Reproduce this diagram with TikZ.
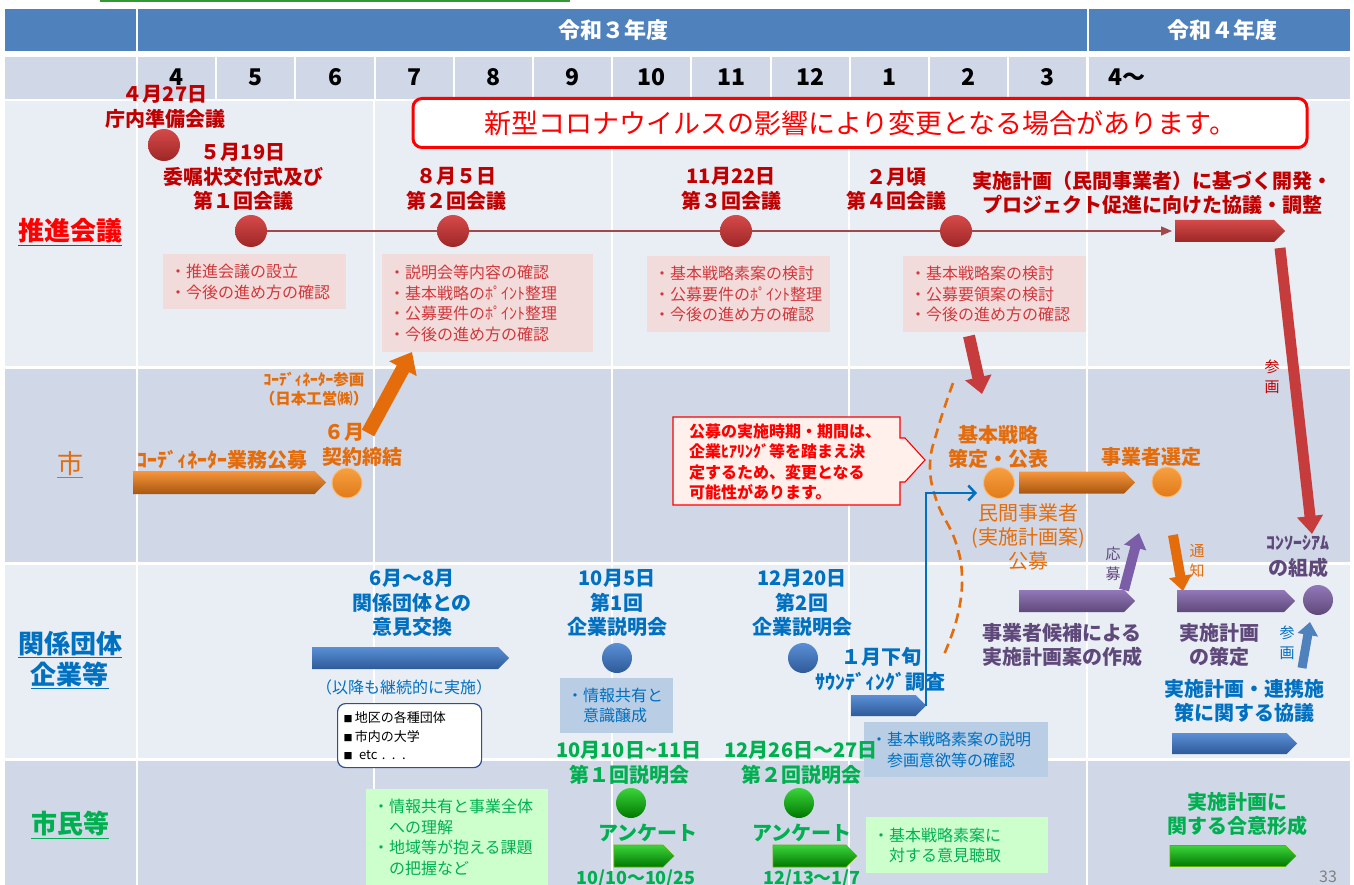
\documentclass[tikz,border=0pt]{standalone}
\usepackage{fontspec}
\setmainfont{Noto Sans CJK JP}
\usetikzlibrary{arrows.meta,shapes.symbols,calc}
\definecolor{hdrblue}{HTML}{4F81BD}
\definecolor{rowlight}{HTML}{E9EDF4}
\definecolor{rowdark}{HTML}{D0D8E8}
\definecolor{dred}{HTML}{C00000}
\definecolor{pinkbox}{HTML}{F2DCDB}
\definecolor{pinktext}{HTML}{D0383C}
\definecolor{orng}{HTML}{E46C0A}
\definecolor{purp}{HTML}{5F497A}
\definecolor{purpshape}{HTML}{7B5EA7}
\definecolor{bluetext}{HTML}{0070C0}
\definecolor{greentext}{HTML}{00B050}
\definecolor{lgreen}{HTML}{CCFFCC}
\definecolor{lblue}{HTML}{B9CDE5}
\definecolor{linegreen}{HTML}{339933}
\definecolor{redtop}{HTML}{D64A4A}
\definecolor{redbot}{HTML}{9E2626}
\definecolor{orgtop}{HTML}{F7A040}
\definecolor{orgbot}{HTML}{E07A1A}
\definecolor{orgptop}{HTML}{F7963C}
\definecolor{orgpbot}{HTML}{A8560F}
\definecolor{blutop}{HTML}{5A8FD6}
\definecolor{blubot}{HTML}{2E5A98}
\definecolor{grntop}{HTML}{3BD43B}
\definecolor{grnbot}{HTML}{007800}
\definecolor{purtop}{HTML}{9278B8}
\definecolor{purbot}{HTML}{5F497A}
\definecolor{arrred}{HTML}{C63B3B}
\definecolor{linered}{HTML}{A0484A}
\definecolor{callfill}{HTML}{FFF0EC}
\definecolor{boxborder}{HTML}{2F4F8F}
\tikzset{
  txt/.style={inner sep=0pt, outer sep=0pt, align=center},
  fb20/.style={font=\bfseries\fontsize{20}{24.5}\selectfont},
  fr20/.style={font=\fontsize{20}{24}\selectfont},
  fr16/.style={font=\fontsize{16}{20.5}\selectfont},
  fr15/.style={font=\fontsize{15}{20}\selectfont},
  ball/.style={circle, inner sep=0pt, minimum size=#1},
  ball/.default=31pt,
  redball/.style={ball=32pt, top color=redtop, bottom color=redbot},
  orgball/.style={ball=30pt, top color=orgtop, bottom color=orgbot, draw=orgtop!70!white, line width=1pt},
  bluball/.style={ball=30pt, top color=blutop, bottom color=blubot},
  grnball/.style={ball=30pt, top color=grntop, bottom color=grnbot},
  purball/.style={ball=30pt, top color=purtop, bottom color=purbot},
  pent/.style={signal, signal to=east, inner sep=0pt, outer sep=0pt, anchor=west},
  redpent/.style={pent, top color=redtop, bottom color=redbot},
  orgpent/.style={pent, top color=orgptop, bottom color=orgpbot},
  blupent/.style={pent, top color=blutop, bottom color=blubot},
  grnpent/.style={pent, top color=grntop, bottom color=grnbot, draw=grnbot!60!yellow, line width=0.6pt},
  purpent/.style={pent, top color=purtop, bottom color=purbot},
  infobox/.style={anchor=north west, align=left, inner xsep=7pt, inner ysep=3pt, font=\fontsize{16}{20.5}\selectfont},
  pbox/.style={infobox, fill=pinkbox, text=pinktext},
  bbox/.style={infobox, fill=lblue, text=bluetext},
  gbox/.style={infobox, fill=lgreen, text=greentext},
}
\newcommand{\sq}{{\fontsize{9}{9}\selectfont ■}\,}
\begin{document}
\begin{tikzpicture}[x=1pt,y=-1pt]
\useasboundingbox (0,0) rectangle (1354,885);
\fill[white] (0,0) rectangle (1354,885);
% top green line
\draw[linegreen, line width=2pt] (100,1.5) -- (570,1.5);
% header row
\fill[hdrblue] (5,9) rectangle (136,51);
\fill[hdrblue] (138,9) rectangle (1087,51);
\fill[hdrblue] (1089,9) rectangle (1350,51);
\node[txt, text=white, font=\bfseries\fontsize{22}{26}\selectfont] (year3) at (613,30) {令和３年度};
\node[txt, text=white, font=\bfseries\fontsize{22}{26}\selectfont] (year4) at (1222,30) {令和４年度};
% month row
\fill[rowdark] (5,57) rectangle (136,99);
\foreach \m [count=\i from 0] in {4,5,6,7,8,9,10,11,12,1,2,3} {
  \fill[rowdark] ({138+79.2*\i},57) rectangle ({136+79.2*(\i+1)},99);
  \node[txt, font=\bfseries\fontsize{23}{26}\selectfont] (mon\i) at ({137+79.2*(\i+0.5)},77) {\m};
}
\fill[rowdark] (1089,57) rectangle (1350,99);
\node[txt, font=\bfseries\fontsize{23}{26}\selectfont] (mon12) at (1127,77) {4～};
% body rows
\fill[rowlight] (5,101) rectangle (1350,366);
\fill[rowdark] (5,369) rectangle (1350,562);
\fill[rowlight] (5,565) rectangle (1350,758);
\fill[rowdark] (5,761) rectangle (1350,885);
\foreach \x in {137,374,612,849,1087} {
  \draw[white, line width=2pt] (\x,100) -- (\x,885);
}
% left labels
\node[txt, text=red, font=\bfseries\fontsize{26}{31}\selectfont] (labsuishin) at (70,232) {\underline{推進会議}};
\node[txt, text=orng, font=\fontsize{26}{31}\selectfont] (labshi) at (70,465) {\underline{市}};
\node[txt, text=bluetext, font=\bfseries\fontsize{26}{31}\selectfont] (labkankei) at (70,660) {\underline{関係団体}\\\underline{企業等}};
\node[txt, text=greentext, font=\bfseries\fontsize{26}{31}\selectfont] (labshimin) at (70,825) {\underline{市民等}};

% ===== 推進会議 row =====
\coordinate (p1) at (164,145);
\coordinate (p2) at (251,231);
\coordinate (p3) at (453,231);
\coordinate (p4) at (736,231);
\coordinate (p5) at (956,231);
\coordinate (pend) at (1172,231);
\draw[linered, line width=1.3pt, -{Triangle[length=11pt,width=9pt]}] (p2) -- (pend);
\node[redball] (r1) at (p1) {};
\node[redball] (r2) at (p2) {};
\node[redball] (r3) at (p3) {};
\node[redball] (r4) at (p4) {};
\node[redball] (r5) at (p5) {};
\node[txt, fb20, text=dred] (t1) at (165,107) {４月27日\\庁内準備会議};
\node[txt, fb20, text=dred] (t2) at (243,177) {５月19日\\委嘱状交付式及び\\第１回会議};
\node[txt, fb20, text=dred] (t3) at (456,189) {８月５日\\第２回会議};
\node[txt, fb20, text=dred] (t4) at (731,189) {11月22日\\第３回会議};
\node[txt, fb20, text=dred] (t5) at (896,189) {２月頃\\第４回会議};
\node[txt, fb20, text=dred] (t6) at (1152,193) {実施計画（民間事業者）に基づく開発・\\プロジェクト促進に向けた協議・調整};
\node[redpent, minimum width=110pt, minimum height=22pt] (bigred) at (1175,231) {};
\node[pbox, text width=169pt, minimum height=55pt] (pb1) at (163,254) {・推進会議の設立\\・今後の進め方の確認};
\node[pbox, text width=197pt, minimum height=98pt] (pb2) at (382,254) {・説明会等内容の確認\\・基本戦略のﾎﾟｲﾝﾄ整理\\・公募要件のﾎﾟｲﾝﾄ整理\\・今後の進め方の確認};
\node[pbox, text width=169pt, minimum height=76pt] (pb3) at (647,256) {・基本戦略素案の検討\\・公募要件のﾎﾟｲﾝﾄ整理\\・今後の進め方の確認};
\node[pbox, text width=169pt, minimum height=76pt] (pb4) at (903,256) {・基本戦略案の検討\\・公募要領案の検討\\・今後の進め方の確認};
\node[draw=red, line width=3pt, fill=white, rounded corners=9pt, minimum width=894pt, minimum height=49pt, inner sep=0pt, text=red, font=\fontsize{27}{30}\selectfont] (warn) at (860,123) {新型コロナウイルスの影響により変更となる場合があります。};

% ===== 市 row =====
\node[orgpent, minimum width=193pt, minimum height=23pt] (orgp1) at (133,482.5) {};
\node[orgball] (o1) at (347,483) {};
\node[txt, fb20, text=orng] (koubo) at (222,460) {ｺｰﾃﾞｨﾈｰﾀｰ業務公募};
\node[txt, fb20, text=orng] (junegatsu) at (344,432) {６月};
\node[txt, fb20, text=orng] (keiyaku) at (362,457) {契約締結};
\node[txt, text=orng, font=\bfseries\fontsize{15.5}{19}\selectfont] (sankaku) at (314,389) {ｺｰﾃﾞｨﾈｰﾀｰ参画\\（日本工営㈱）};
\coordinate (coordS) at (368,433);
\coordinate (coordE) at (412,352);
\draw[orng, line width=14pt, -{Triangle[width=30pt,length=19pt]}] (coordS) -- (coordE);
% callout
\draw[red, fill=callfill, line width=1.1pt] (673,417) -- (900,417) -- (900,438) -- (905,438) -- (925,460) -- (905,482) -- (900,482) -- (900,505) -- (673,505) -- cycle;
\node[txt, align=left, text=red, font=\bfseries\fontsize{16}{20.5}\selectfont] (calltext) at (785,462) {公募の実施時期・期間は、\\企業ﾋｱﾘﾝｸﾞ等を踏まえ決\\定するため、変更となる\\可能性があります。};
% dashed curve
\draw[orng, line width=2.6pt, dash pattern=on 10pt off 6pt] plot[smooth, tension=0.7] coordinates {(953,383) (938,428) (930,465) (937,502) (955,540) (962,577) (957,618) (943,657)};
% red small arrow
\coordinate (warnS) at (969,336);
\coordinate (warnE) at (982,394);
\draw[arrred, line width=12pt, -{Triangle[width=26pt,length=17pt]}] (warnS) -- (warnE);
\node[orgball, ball=31pt] (o2) at (999,483) {};
\node[txt, fb20, text=orng] (kihon) at (998,447) {基本戦略\\策定・公表};
\node[txt, fr20, text=orng] (minkan) at (1028,537) {民間事業者\\(実施計画案)\\公募};
\node[orgpent, minimum width=116pt, minimum height=22pt] (orgp2) at (1019,482.5) {};
\node[orgball] (o3) at (1167,482) {};
\node[txt, fb20, text=orng] (sentei) at (1151,457) {事業者選定};
% red sanka arrow
\coordinate (sankaS) at (1280,248);
\coordinate (sankaE) at (1312,534);
\draw[arrred, line width=11pt, -{Triangle[width=25pt,length=18pt]}] (sankaS) -- (sankaE);
\node[txt, text=dred, font=\fontsize{15}{20}\selectfont] (sankalbl) at (1272,377) {参\\画};
% oubo / tsuchi
\coordinate (ouboS) at (1124,590);
\coordinate (ouboE) at (1139,533);
\draw[purpshape, line width=10pt, -{Triangle[width=22pt,length=15pt]}] (ouboS) -- (ouboE);
\node[txt, fr15, text=purp] (ouboLbl) at (1113,564) {応\\募};
\coordinate (tsuS) at (1173,535);
\coordinate (tsuE) at (1183,591);
\draw[orng, line width=10pt, -{Triangle[width=22pt,length=15pt]}] (tsuS) -- (tsuE);
\node[txt, fr15, text=orng] (tsuLbl) at (1197,561) {通\\知};
\node[txt, text=purp, font=\bfseries\fontsize{18}{22}\selectfont] (consor) at (1298,543) {ｺﾝｿｰｼｱﾑ};
\node[txt, fb20, text=purp] (kousei) at (1298,568) {の組成};
\node[purball] (pu) at (1318,600) {};
\node[purpent, minimum width=116pt, minimum height=22pt] (purp1) at (1019,601) {};
\node[purpent, minimum width=118pt, minimum height=22pt] (purp2) at (1177,601) {};
\node[txt, fb20, text=purp] (kouho) at (1062,645) {事業者候補による\\実施計画案の作成};
\node[txt, fb20, text=purp] (sakutei) at (1219,645) {実施計画\\の策定};
\coordinate (bsS) at (1302,668);
\coordinate (bsE) at (1310,622);
\draw[hdrblue, line width=9pt, -{Triangle[width=20pt,length=13pt]}] (bsS) -- (bsE);
\node[txt, fr15, text=bluetext] (bsLbl) at (1287,643) {参\\画};
\node[txt, fb20, text=bluetext] (renkei) at (1244,701) {実施計画・連携施\\策に関する協議};
\node[blupent, minimum width=125pt, minimum height=21pt] (blup3) at (1172,743.5) {};

% ===== 関係団体 row =====
\node[txt, fb20, text=bluetext] (iken) at (412,603) {6月～8月\\関係団体との\\意見交換};
\node[blupent, minimum width=197pt, minimum height=22pt] (blup1) at (312,658) {};
\node[txt, fr16, text=bluetext] (keizoku) at (404,687) {（以降も継続的に実施）};
\node[draw=boxborder, fill=white, rounded corners=8pt, line width=1.2pt, anchor=north west, minimum width=144pt, minimum height=64pt, text width=132pt, inner xsep=6pt, inner ysep=0pt, align=left, font=\fontsize{13}{18.5}\selectfont] (listbox) at (337,703) {\sq 地区の各種団体\\\sq 市内の大学\\\sq \ etc . . .};
\node[txt, fb20, text=bluetext] (kigyo1) at (617,603) {10月5日\\第1回\\企業説明会};
\node[bluball] (bb1) at (617,658) {};
\node[bbox, text width=99pt, minimum height=55pt] (bx1) at (560,678) {・情報共有と\\　意識醸成};
\node[txt, fb20, text=bluetext] (kigyo2) at (802,603) {12月20日\\第2回\\企業説明会};
\node[bluball] (bb2) at (803,658) {};
\node[txt, fb20, text=bluetext] (gejun) at (881,657) {１月下旬};
\node[txt, fb20, text=bluetext] (sounding) at (880,682) {ｻｳﾝﾃﾞｨﾝｸﾞ調査};
\node[blupent, minimum width=75pt, minimum height=21pt] (sound) at (851,705.5) {};
\node[bbox, text width=170pt, minimum height=55pt] (bx2) at (864,722) {・基本戦略素案の説明\\　参画意欲等の確認};
\coordinate (kihonin) at (977,493);
\draw[bluetext, line width=2.5pt, -{Straight Barb[length=7pt,width=15pt]}] (sound.east) |- (kihonin);

% ===== 市民等 row =====
\node[gbox, text width=168pt, minimum height=96pt] (gx1) at (366,789) {・情報共有と事業全体\\　への理解\\・地域等が抱える課題\\　の把握など};
\node[txt, fb20, text=greentext] (setsu1) at (629,763) {10月10日{\char"7E}11日\\第１回説明会};
\node[grnball] (gb1) at (631,803) {};
\node[txt, fb20, text=greentext] (anq1) at (648,833) {アンケート};
\node[grnpent, minimum width=60pt, minimum height=22pt] (grnp1) at (614,856) {};
\node[txt, text=greentext, font=\bfseries\fontsize{18}{22}\selectfont] (date1) at (636,879) {10/10～10/25};
\node[txt, fb20, text=greentext] (setsu2) at (801,763) {12月26日～27日\\第２回説明会};
\node[grnball] (gb2) at (799,803) {};
\node[txt, fb20, text=greentext] (anq2) at (802,833) {アンケート};
\node[grnpent, minimum width=84pt, minimum height=22pt] (grnp2) at (773,856) {};
\node[txt, text=greentext, font=\bfseries\fontsize{18}{22}\selectfont] (date2) at (812,879) {12/13～1/7};
\node[gbox, text width=168pt, minimum height=56pt] (gx2) at (866,817) {・基本戦略素案に\\　対する意見聴取};
\node[txt, fb20, text=greentext] (goui) at (1237,814) {実施計画に\\関する合意形成};
\node[grnpent, minimum width=126pt, minimum height=21pt] (grnp3) at (1170,856) {};
\node[txt, text=gray, font=\fontsize{16}{20}\selectfont] (pagenum) at (1328,877) {33};
\end{tikzpicture}
\end{document}
